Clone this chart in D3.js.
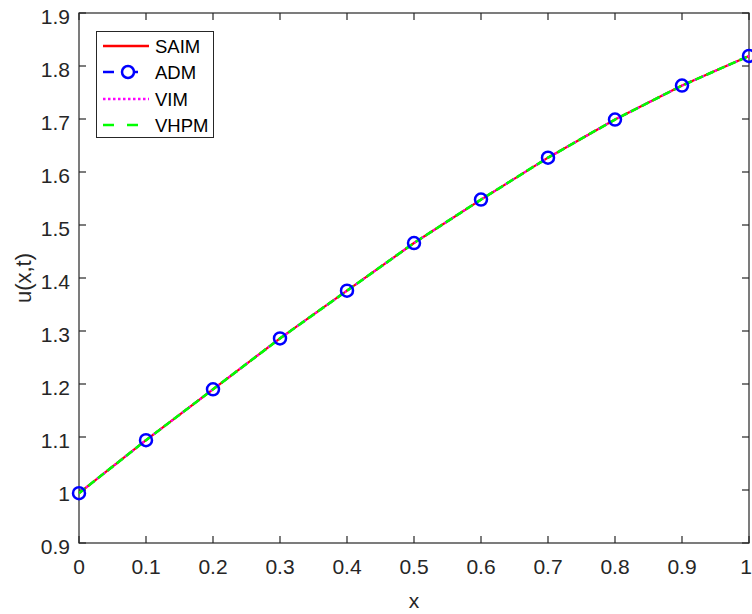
<!DOCTYPE html>
<html>
<head>
<meta charset="utf-8">
<script src="https://cdn.jsdelivr.net/npm/d3@7"></script>
<style>
  html, body { margin: 0; padding: 0; background: #fff; }
  svg { display: block; font-family: "Liberation Sans", Arial, Helvetica, sans-serif; }
</style>
</head>
<body>
<svg id="chart" width="752" height="614"></svg>
<script>
// Solution u(x,t) at the sample points, one array per method
const xValues = [0, 0.1, 0.2, 0.3, 0.4, 0.5, 0.6, 0.7, 0.8, 0.9, 1.0];
const saim = [0.994, 1.094, 1.190, 1.286, 1.376, 1.466, 1.548, 1.627, 1.699, 1.763, 1.819];
const adm  = [0.994, 1.094, 1.190, 1.286, 1.376, 1.466, 1.548, 1.627, 1.699, 1.763, 1.819];
const vim  = [0.994, 1.094, 1.190, 1.286, 1.376, 1.466, 1.548, 1.627, 1.699, 1.763, 1.819];
const vhpm = [0.994, 1.094, 1.190, 1.286, 1.376, 1.466, 1.548, 1.627, 1.699, 1.763, 1.819];

const xTicks = [0, 0.1, 0.2, 0.3, 0.4, 0.5, 0.6, 0.7, 0.8, 0.9, 1];
const yTicks = [0.9, 1, 1.1, 1.2, 1.3, 1.4, 1.5, 1.6, 1.7, 1.8, 1.9];
const seriesNames = ["SAIM", "ADM", "VIM", "VHPM"];

const svg = d3.select("#chart");
const axisColor = "#262626";
const plotLeft = 79, plotRight = 749, plotTop = 13, plotBottom = 543;

const x = d3.scaleLinear().domain([0, 1]).range([plotLeft, plotRight]);
const y = d3.scaleLinear().domain([0.9, 1.9]).range([plotBottom, plotTop]);

const fmt = d => String(+d.toFixed(1));

// frame and inward ticks on all four sides
const g = svg.append("g");
const tickLen = 7;
g.append("rect")
  .attr("x", plotLeft).attr("y", plotTop)
  .attr("width", plotRight - plotLeft).attr("height", plotBottom - plotTop)
  .attr("fill", "none").attr("stroke", axisColor).attr("stroke-width", 1.2);

xTicks.forEach((t, i) => {
  const px = x(t);
  const last = i === xTicks.length - 1;
  g.append("line").attr("x1", px).attr("x2", px).attr("y1", plotBottom).attr("y2", plotBottom - tickLen)
    .attr("stroke", axisColor).attr("stroke-width", 1.2);
  g.append("line").attr("x1", px).attr("x2", px).attr("y1", plotTop).attr("y2", plotTop + tickLen)
    .attr("stroke", axisColor).attr("stroke-width", 1.2);
  // the rightmost label sits against the page edge, so keep it inside
  g.append("text").attr("x", last ? 752 : px).attr("y", plotBottom + 31)
    .attr("text-anchor", last ? "end" : "middle").attr("font-size", 21).attr("fill", axisColor)
    .text(fmt(t));
});

yTicks.forEach(t => {
  const py = y(t);
  g.append("line").attr("x1", plotLeft).attr("x2", plotLeft + tickLen).attr("y1", py).attr("y2", py)
    .attr("stroke", axisColor).attr("stroke-width", 1.2);
  g.append("line").attr("x1", plotRight).attr("x2", plotRight - tickLen).attr("y1", py).attr("y2", py)
    .attr("stroke", axisColor).attr("stroke-width", 1.2);
  g.append("text").attr("x", 70).attr("y", py + 10.5)
    .attr("text-anchor", "end").attr("font-size", 21).attr("fill", axisColor)
    .text(fmt(t));
});

// axis titles
svg.append("text").attr("x", (plotLeft + plotRight) / 2).attr("y", 608)
  .attr("text-anchor", "middle").attr("font-size", 21).attr("fill", axisColor).text("x");
svg.append("text").attr("transform", `translate(31,${(plotTop + plotBottom) / 2}) rotate(-90)`)
  .attr("text-anchor", "middle").attr("font-size", 22).attr("fill", axisColor).text("u(x,t)");

// curves
const line = d3.line().x(d => x(d[0])).y(d => y(d[1]));
const pts = arr => xValues.map((xv, i) => [xv, arr[i]]);

const styles = {
  SAIM: { color: "#ff0000", dash: null, legendDash: null },
  ADM:  { color: "#0000ff", dash: "8,4", legendDash: "11,13" },
  VIM:  { color: "#ff00ff", dash: "2,2.5", legendDash: "2.5,2.5" },
  VHPM: { color: "#00ff00", dash: "8,4", legendDash: "11,13" }
};

const plot = svg.append("g");
plot.append("path").datum(pts(adm)).attr("d", line)
  .attr("fill", "none").attr("stroke", styles.ADM.color).attr("stroke-width", 2)
  .attr("stroke-dasharray", styles.ADM.dash);
plot.append("path").datum(pts(saim)).attr("d", line)
  .attr("fill", "none").attr("stroke", styles.SAIM.color).attr("stroke-width", 2.2);
plot.append("path").datum(pts(vim)).attr("d", line)
  .attr("fill", "none").attr("stroke", styles.VIM.color).attr("stroke-width", 2.2)
  .attr("stroke-dasharray", styles.VIM.dash);
plot.append("path").datum(pts(vhpm)).attr("d", line)
  .attr("fill", "none").attr("stroke", styles.VHPM.color).attr("stroke-width", 2.6)
  .attr("stroke-dasharray", styles.VHPM.dash);

// ADM markers
plot.selectAll("circle.adm").data(pts(adm)).enter().append("circle")
  .attr("class", "adm")
  .attr("cx", d => x(d[0])).attr("cy", d => y(d[1])).attr("r", 6)
  .attr("fill", "none").attr("stroke", styles.ADM.color).attr("stroke-width", 2.5);

// legend
const lg = svg.append("g");
lg.append("rect").attr("x", 96.5).attr("y", 31.5).attr("width", 117).attr("height", 106)
  .attr("fill", "#fff").attr("stroke", axisColor).attr("stroke-width", 1);
const rowY = [46, 72, 99, 125];
seriesNames.forEach((name, i) => {
  const st = styles[name];
  const ry = rowY[i];
  lg.append("line").attr("x1", 103).attr("x2", 149).attr("y1", ry).attr("y2", ry)
    .attr("stroke", st.color).attr("stroke-width", 2.5)
    .attr("stroke-dasharray", st.legendDash);
  if (name === "ADM") {
    lg.append("circle").attr("cx", 128).attr("cy", ry).attr("r", 6)
      .attr("fill", "#fff").attr("stroke", st.color).attr("stroke-width", 2.5);
  }
  lg.append("text").attr("x", 155).attr("y", ry + 7)
    .attr("font-size", 18.5).attr("fill", "#000").text(name);
});
</script>
</body>
</html>
